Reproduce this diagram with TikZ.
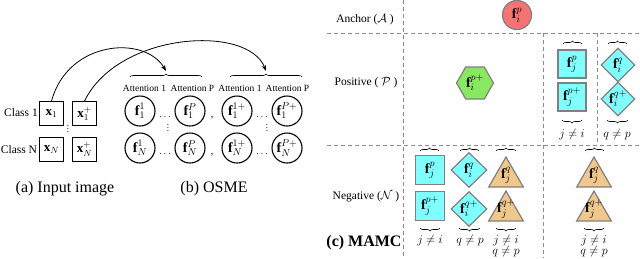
\documentclass[tikz,border=0pt]{standalone}
\usepackage{fontspec}
\setmainfont{Liberation Serif}
\usetikzlibrary{shapes.geometric,decorations.pathreplacing,arrows.meta}
\definecolor{cyanfill}{RGB}{128,255,255}
\definecolor{hexgreen}{RGB}{136,232,96}
\definecolor{tanfill}{RGB}{240,200,140}
\definecolor{redfill}{RGB}{245,115,115}
\definecolor{dashgray}{RGB}{140,140,140}
\definecolor{bordergray}{RGB}{128,128,128}
\newcommand\myvdots{\vbox{\baselineskip=3.2pt\lineskiplimit=-10pt\hbox{.}\hbox{.}\hbox{.}}}
\begin{document}
\begin{tikzpicture}[x=1pt,y=-1pt,
  mfont/.style={font=\fontsize{14}{16}\selectfont},
  inbox/.style={draw=black,line width=0.8pt,minimum width=24pt,minimum height=24pt,inner sep=0pt,font=\fontsize{13}{15}\selectfont},
  feat/.style={circle,draw=black,line width=1.1pt,minimum size=30pt,inner sep=0pt,mfont},
  sq/.style={rectangle,draw=bordergray,fill=cyanfill,line width=1.2pt,minimum size=28pt,inner sep=0pt,mfont},
  dia/.style={diamond,draw=bordergray,fill=cyanfill,line width=1.2pt,minimum width=34pt,minimum height=34pt,inner sep=0pt},
  tri/.style={regular polygon,regular polygon sides=3,draw=bordergray,fill=tanfill,line width=1.2pt,minimum size=40pt,inner sep=0pt},
  intext/.style={mfont,inner sep=0pt},
  gridline/.style={dashgray,line width=0.9pt,dash pattern=on 4pt off 3pt},
  obrace/.style={decorate,decoration={brace,amplitude=3pt},line width=0.6pt},
  ubrace/.style={decorate,decoration={brace,amplitude=3pt,mirror},line width=0.6pt},
  lab/.style={font=\fontsize{11.5}{13}\selectfont},
  attn/.style={font=\fontsize{9.5}{11}\selectfont},
  captxt/.style={font=\fontsize{16}{18}\selectfont},
  cond/.style={font=\fontsize{12}{14}\selectfont,inner sep=0pt},
  smalldots/.style={font=\fontsize{9}{9}\selectfont,inner sep=0pt},
  arr/.style={-{Stealth[length=6pt,width=4.5pt]},line width=0.8pt}
]
\useasboundingbox (0,0) rectangle (640,258);

% ---------- (a) input image ----------
\node[lab] (c1) at (21,113) {Class 1};
\node[lab] (cN) at (19,150) {Class N};
\node[inbox] (x1) at (51.5,113.5) {$\mathbf{x}_1$};
\node[inbox] (x1p) at (84.5,113.5) {$\mathbf{x}_1^+$};
\node[inbox] (xN) at (51.5,149.5) {$\mathbf{x}_N$};
\node[inbox] (xNp) at (84.5,149.5) {$\mathbf{x}_N^+$};
\node[smalldots] (vd0) at (68,129) {\myvdots};
\node[captxt] (capa) at (65,189) {(a) Input image};

% ---------- (b) OSME ----------
\node[feat] (f11) at (140,111) {$\mathbf{f}_1^1$};
\node[feat] (f1P) at (190,111) {$\mathbf{f}_1^P$};
\node[feat] (f1a) at (237,111) {$\mathbf{f}_1^{1+}$};
\node[feat] (f1b) at (287,111) {$\mathbf{f}_1^{P+}$};
\node[feat] (fN1) at (140,148) {$\mathbf{f}_N^1$};
\node[feat] (fNP) at (190,148) {$\mathbf{f}_N^P$};
\node[feat] (fNa) at (237,148) {$\mathbf{f}_N^{1+}$};
\node[feat] (fNb) at (287,148) {$\mathbf{f}_N^{P+}$};
\node[inner sep=0pt,anchor=base] (d1) at (165,117) {$\ldots$};
\node[inner sep=0pt,anchor=base] (d2) at (262,117) {$\ldots$};
\node[inner sep=0pt,anchor=base] (d3) at (165,154) {$\ldots$};
\node[inner sep=0pt,anchor=base] (d4) at (262,154) {$\ldots$};
\node[inner sep=0pt,anchor=base] (cm1) at (212,117) {,};
\node[inner sep=0pt,anchor=base] (cm2) at (212,154) {,};
\node[smalldots] (vd1) at (168,128) {\myvdots};
\node[smalldots] (vd2) at (267,128) {\myvdots};
\node[attn] (at1) at (144.5,88) {Attention 1};
\node[attn] (at2) at (192.5,88) {Attention P};
\node[attn] (at3) at (240,88) {Attention 1};
\node[attn] (at4) at (287.5,88) {Attention P};
\draw[obrace] (130,77) -- (202,77);
\draw[obrace] (230,77) -- (302,77);
\coordinate (tip1) at (166,71);
\coordinate (tip2) at (266,71);
\draw[arr] (x1.north) .. controls (68,40) and (145,35) .. (tip1);
\draw[arr] (x1p.north) .. controls (118,32) and (248,24) .. (tip2);
\node[captxt] (capb) at (214,189) {(b) OSME};

% ---------- (c) MAMC grid ----------
\draw[gridline] (403,0) -- (403,258);
\draw[gridline] (327,33) -- (640,33);
\draw[gridline] (327,145) -- (640,145);
\draw[gridline] (543,33) -- (543,258);
\draw[gridline] (597,33) -- (597,145);

\node[lab] (lA) at (365,20) {Anchor ($\mathcal{A}$ )};
\node[lab] (lP) at (366,83) {Positive ( $\mathcal{P}$ )};
\node[lab] (lN) at (366,197) {Negative ($\mathcal{N}$ )};
\node[captxt,font=\fontsize{16}{18}\selectfont\bfseries] (capc) at (364,243) {(c) MAMC};

\node[circle,draw=bordergray,fill=redfill,line width=1.2pt,minimum size=29pt,inner sep=0pt,mfont] (anc) at (517,15) {$\mathbf{f}_i^p$};
\node[regular polygon,regular polygon sides=6,draw=bordergray,fill=hexgreen,line width=1.2pt,minimum size=37pt,inner sep=0pt] (hex) at (475,83) {};
\node[intext] (hext) at (475,83) {$\mathbf{f}_i^{p+}$};

% positive, other classes / parts
\node[sq] (ps1) at (572,64) {$\mathbf{f}_j^p$};
\node[sq] (ps2) at (572,97) {$\mathbf{f}_j^{p+}$};
\node[dia] (pd1) at (618,65) {};
\node[intext] (pd1t) at (618,65) {$\mathbf{f}_i^q$};
\node[dia] (pd2) at (618,99) {};
\node[intext] (pd2t) at (618,99) {$\mathbf{f}_i^{q+}$};
\draw[obrace] (563,44) -- (582,44);
\draw[obrace] (608,44) -- (627,44);
\draw[ubrace] (562,120) -- (582,120);
\draw[ubrace] (607,120) -- (628,120);
\node[cond] (pc1) at (572,134) {$j\neq i$};
\node[cond] (pc2) at (617,134) {$q\neq p$};

% negative
\node[sq,minimum size=29pt] (ns1) at (430,170) {$\mathbf{f}_j^p$};
\node[sq,minimum size=29pt] (ns2) at (430,206) {$\mathbf{f}_j^{p+}$};
\node[dia,minimum width=36pt,minimum height=35pt] (nd1) at (469,170) {};
\node[intext] (nd1t) at (469,170) {$\mathbf{f}_i^q$};
\node[dia,minimum width=36pt,minimum height=35pt] (nd2) at (469,209) {};
\node[intext] (nd2t) at (469,209) {$\mathbf{f}_i^{q+}$};
\node[tri] (nt1) at (506,177) {};
\node[intext] (nt1t) at (506,175) {$\mathbf{f}_j^q$};
\node[tri] (nt2) at (506,211) {};
\node[intext] (nt2t) at (506,209) {$\mathbf{f}_j^{q+}$};
\node[tri] (nt3) at (594,177) {};
\node[intext] (nt3t) at (594,175) {$\mathbf{f}_j^q$};
\node[tri] (nt4) at (594,211) {};
\node[intext] (nt4t) at (594,209) {$\mathbf{f}_j^{q+}$};
\draw[obrace] (420,151) -- (439,151);
\draw[obrace] (460,151) -- (479,151);
\draw[obrace] (496,151) -- (516,151);
\draw[obrace] (585,151) -- (604,151);
\draw[ubrace] (420,228) -- (440,228);
\draw[ubrace] (459,228) -- (480,228);
\draw[ubrace] (496,228) -- (516,228);
\draw[ubrace] (584,228) -- (604,228);
\node[cond] (nc1) at (430,240) {$j\neq i$};
\node[cond] (nc2) at (470,240) {$q\neq p$};
\node[cond] (nc3) at (506,240) {$j\neq i$};
\node[cond] (nc4) at (506,251) {$q\neq p$};
\node[cond] (nc5) at (594,240) {$j\neq i$};
\node[cond] (nc6) at (594,251) {$q\neq p$};
\end{tikzpicture}
\end{document}
